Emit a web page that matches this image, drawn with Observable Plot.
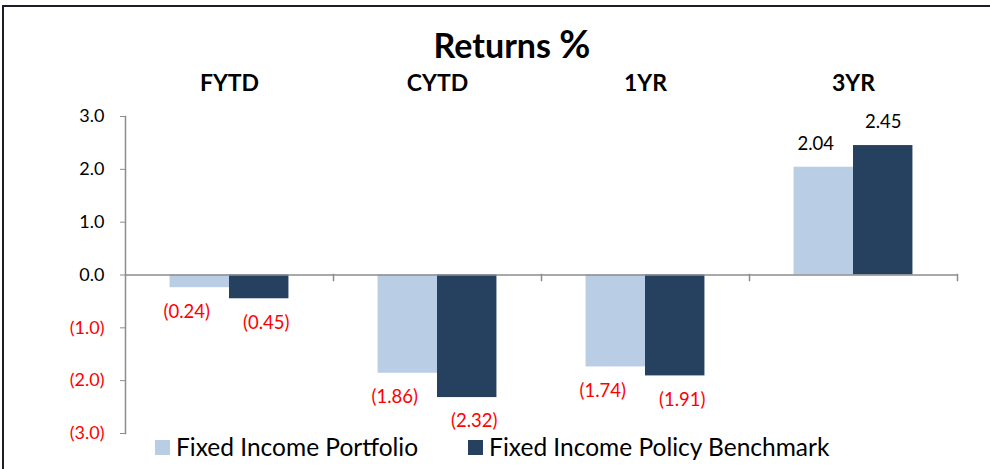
<!DOCTYPE html>
<html><head><meta charset="utf-8">
<script src="https://cdn.jsdelivr.net/npm/d3@7"></script>
<script src="https://cdn.jsdelivr.net/npm/@observablehq/plot@0.6"></script>
<style>
html,body{margin:0;padding:0;background:#fff;overflow:hidden;}
#wrap{position:relative;width:990px;height:469px;font-family:Lato,"Liberation Sans",sans-serif;color:#000;}
#chart{position:absolute;left:0;top:0;}
#border{position:absolute;left:2px;top:5px;width:1010px;height:520px;border:2px solid #1c1c2a;box-sizing:border-box;pointer-events:none;}
#title{position:absolute;left:362px;width:300px;top:23px;text-align:center;font-weight:bold;font-size:34px;line-height:40px;}
#title .pct{font-size:38px;}
#legend{position:absolute;left:155px;top:433px;display:flex;align-items:center;font-size:24.5px;line-height:28px;}
#legend .sw{width:15px;height:15px;display:inline-block;margin-right:6px;}
#legend .item{display:flex;align-items:center;margin-right:50px;}
</style></head>
<body>
<div id="wrap">
  <div id="chart"></div>
  <div id="title">Returns <span class="pct">%</span></div>
  <div id="legend"></div>
  <div id="border"></div>
</div>
<script>
const categories = ["FYTD", "CYTD", "1YR", "3YR"];
const seriesNames = ["Fixed Income Portfolio", "Fixed Income Policy Benchmark"];
const portfolio = [-0.24, -1.86, -1.74, 2.04];
const benchmark = [-0.45, -2.32, -1.91, 2.45];
const yTicksPositive = [0, 1, 2, 3];
const yTicksNegative = [-1, -2, -3];
const seriesColors = ["#B9CDE5", "#26405F"];

const data = categories.flatMap((c, i) => [
  {cat: c, series: seriesNames[0], value: portfolio[i]},
  {cat: c, series: seriesNames[1], value: benchmark[i]}
]);
const fmtVal = v => v < 0 ? `(${Math.abs(v).toFixed(2)})` : v.toFixed(2);
const fmtTick = v => v < 0 ? `(${Math.abs(v).toFixed(1)})` : v.toFixed(1);
const axisGray = "#8C8C8C";
const labelFont = 18.5;

const pick = (neg, s) => data.filter(d => (d.value < 0) === neg && d.series === seriesNames[s]);
const valueText = (rows, opts) => Plot.text(rows, {
  fx: "cat", x: "series", y: "value", text: d => fmtVal(d.value), fontSize: labelFont, ...opts
});

const chart = Plot.plot({
  width: 990, height: 469,
  marginLeft: 124, marginRight: 32, marginTop: 116, marginBottom: 36,
  style: {fontFamily: "Lato, 'Liberation Sans', sans-serif", background: "transparent", color: "#000"},
  fx: {domain: categories, padding: 0, axis: null},
  x: {domain: seriesNames, paddingInner: 0, paddingOuter: 0.75, round: false, axis: null},
  y: {domain: [-3, 3], axis: null},
  color: {domain: seriesNames, range: seriesColors},
  marks: [
    Plot.barY(data, {fx: "cat", x: "series", y: "value", fill: "series"}),
    Plot.ruleY([0], {stroke: axisGray, strokeWidth: 1.5}),
    Plot.frame({anchor: "left", facetAnchor: "left", stroke: axisGray, strokeWidth: 1.5}),
    Plot.frame({anchor: "right", insetTop: 158, insetBottom: 153, stroke: axisGray, strokeWidth: 1.5}),
    Plot.axisY({ticks: yTicksPositive, label: null, tickSize: 5, tickPadding: 16, tickFormat: fmtTick, fontSize: 18, stroke: axisGray, fill: "#000"}),
    Plot.axisY({ticks: yTicksNegative, label: null, tickSize: 5, tickPadding: 16, tickFormat: fmtTick, fontSize: 18, stroke: axisGray, fill: "#FF0000"}),
    Plot.text(categories, {fx: d => d, text: d => d, frameAnchor: "top", dy: -42, fontWeight: "bold", fontSize: 23}),
    valueText(pick(true, 0), {dy: 24, dx: -13, fill: "#FF0000"}),
    valueText(pick(true, 1), {dy: 24, dx: 7, fill: "#FF0000"}),
    valueText(pick(false, 0), {dy: -23, dx: -8, fill: "#000"}),
    valueText(pick(false, 1), {dy: -23, dx: 0, fill: "#000"})
  ]
});
document.getElementById("chart").appendChild(chart);

const legend = document.getElementById("legend");
seriesNames.forEach((s, i) => {
  const item = document.createElement("div");
  item.className = "item";
  const sw = document.createElement("span");
  sw.className = "sw";
  sw.style.background = seriesColors[i];
  const t = document.createElement("span");
  t.textContent = s;
  item.appendChild(sw);
  item.appendChild(t);
  legend.appendChild(item);
});
</script>
</body></html>
